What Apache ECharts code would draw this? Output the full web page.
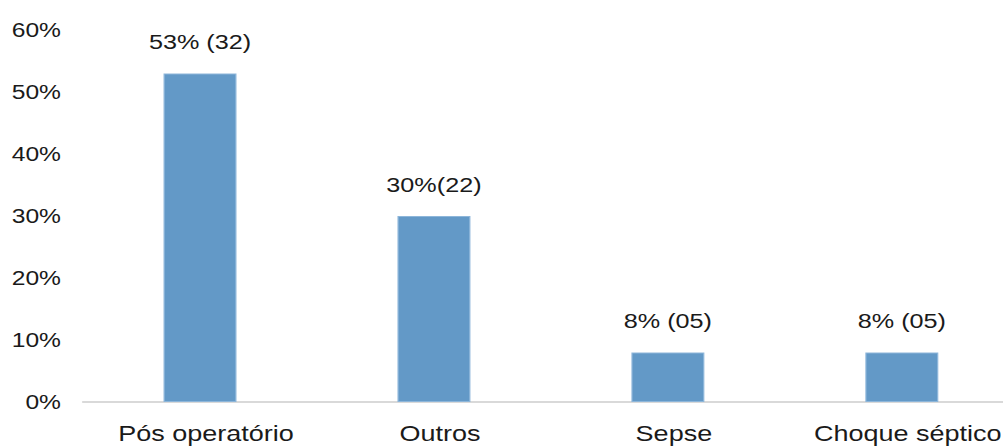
<!DOCTYPE html>
<html>
<head>
<meta charset="utf-8">
<script src="https://cdn.jsdelivr.net/npm/echarts@6/dist/echarts.min.js"></script>
<style>
  html, body { margin: 0; padding: 0; background: #fff; overflow: hidden; }
  /* the chart is laid out narrow and widened horizontally, giving the wide lettering */
  #chart { width: 849px; height: 448px; transform: scaleX(1.2); transform-origin: 0 0; }
</style>
</head>
<body>
<div id="chart"></div>
<script>
// Categories, percentage values and bar label texts
const categories = ['Pós operatório', 'Outros', 'Sepse', 'Choque séptico'];
const percentValues = [53, 30, 8, 8];
const valueLabels = ['53% (32)', '30%(22)', '8% (05)', '8% (05)'];
const yTicks = [0, 10, 20, 30, 40, 50, 60];

const font = '"Liberation Sans", Arial, Helvetica, sans-serif';
const textColor = '#1a1a1a';
const chart = echarts.init(document.getElementById('chart'), null, { renderer: 'svg' });

chart.setOption({
  animation: false,
  grid: { left: 69.2, right: 0, top: 30, bottom: 46 },
  xAxis: {
    type: 'category',
    data: categories,
    axisLine: { lineStyle: { color: '#d9d9d9', width: 2 } },
    axisTick: { show: false },
    axisLabel: {
      interval: 0, hideOverlap: false,
      color: textColor, fontSize: 22.5, fontFamily: font, margin: 20,
      padding: [0, 0, 0, 10]
    }
  },
  yAxis: {
    type: 'value',
    min: yTicks[0],
    max: yTicks[yTicks.length - 1],
    interval: 10,
    splitLine: { show: false },
    axisLine: { show: false },
    axisTick: { show: false },
    axisLabel: {
      color: textColor, fontSize: 20.5, fontFamily: font, margin: 18.4,
      formatter: v => v + '%'
    }
  },
  series: [{
    type: 'bar',
    data: percentValues,
    barWidth: 60.8,
    itemStyle: { color: '#6399c7', borderColor: '#8db6da', borderWidth: 1 },
    label: {
      show: true,
      position: 'top',
      distance: 21,
      color: textColor,
      fontSize: 21,
      fontFamily: font,
      formatter: p => valueLabels[p.dataIndex]
    }
  }]
});
</script>
</body>
</html>
